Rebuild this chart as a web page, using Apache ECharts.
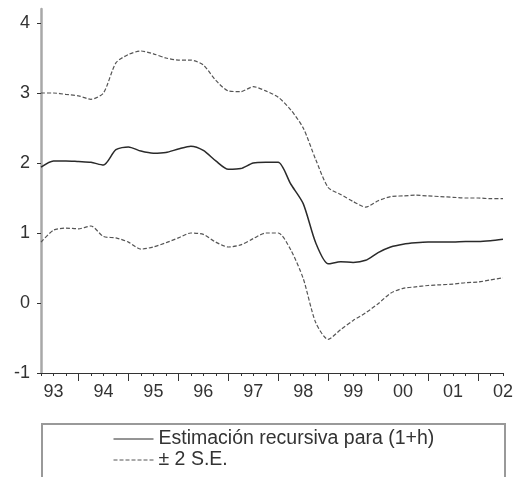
<!DOCTYPE html>
<html>
<head>
<meta charset="utf-8">
<script src="https://cdn.jsdelivr.net/npm/echarts@6/dist/echarts.min.js"></script>
<style>html,body{margin:0;padding:0;background:#fff;}#c{width:516px;height:477px;}</style>
</head>
<body>
<div id="c"></div>
<script>
const quarters = ["1992Q4",
 "1993Q1","1993Q2","1993Q3","1993Q4",
 "1994Q1","1994Q2","1994Q3","1994Q4",
 "1995Q1","1995Q2","1995Q3","1995Q4",
 "1996Q1","1996Q2","1996Q3","1996Q4",
 "1997Q1","1997Q2","1997Q3","1997Q4",
 "1998Q1","1998Q2","1998Q3","1998Q4",
 "1999Q1","1999Q2","1999Q3","1999Q4",
 "2000Q1","2000Q2","2000Q3","2000Q4",
 "2001Q1","2001Q2","2001Q3","2001Q4",
 "2002Q1"];
const yearLabels = ["93","94","95","96","97","98","99","00","01","02"];
const yTicks = [-1, 0, 1, 2, 3, 4];
const estimate = [1.94,2.03,2.03,2.02,2.01,1.97,2.19,2.23,2.17,2.14,2.15,2.20,2.24,2.18,2.03,1.91,1.92,2.00,
 2.01,2.01,1.70,1.42,0.86,0.56,0.59,0.58,0.61,0.72,0.80,0.84,0.86,0.87,0.87,0.87,0.88,0.88,0.89,0.91];
const upper = [3.00,3.00,2.98,2.96,2.91,3.00,3.43,3.55,3.60,3.56,3.50,3.47,3.47,3.40,3.18,3.03,3.02,3.09,
 3.03,2.94,2.76,2.50,2.05,1.65,1.55,1.45,1.37,1.46,1.52,1.53,1.54,1.53,1.52,1.51,1.50,1.50,1.49,1.49];
const lower = [0.87,1.04,1.07,1.06,1.10,0.95,0.93,0.87,0.77,0.80,0.86,0.93,1.00,0.98,0.87,0.80,0.83,0.92,
 1.00,1.00,0.76,0.35,-0.28,-0.52,-0.38,-0.25,-0.14,-0.01,0.14,0.21,0.23,0.25,0.26,0.27,0.29,0.30,0.33,0.36];

const FONT = 'Liberation Sans, Arial, sans-serif';
const legendBase = {
  orient: 'horizontal', left: 113,
  itemWidth: 40, itemHeight: 14,
  itemStyle: {opacity: 0},
  lineStyle: {width: 1},
  textStyle: {fontSize: 19.5, lineHeight: 20, color: '#333', fontFamily: FONT},
  padding: 0
};
const chart = echarts.init(document.getElementById('c'));
chart.setOption({
  animation: false,
  grid: {left: 41, right: 9, top: 9, bottom: 104},
  graphic: [{
    type: 'rect', silent: true,
    shape: {x: 42, y: 424, width: 463, height: 80},
    style: {fill: 'none', stroke: '#999', lineWidth: 2}
  }],
  legend: [
    Object.assign({}, legendBase, {top: 429, data: ['Estimación recursiva para (1+h)']}),
    Object.assign({}, legendBase, {top: 450, data: ['± 2 S.E.']})
  ],
  xAxis: [{
    type: 'category', data: quarters, boundaryGap: false,
    axisLine: {onZero: false, lineStyle: {color: '#333', width: 1}},
    axisTick: {interval: 0, length: 3, lineStyle: {color: '#333'}},
    axisLabel: {
      interval: (i, v) => v.endsWith('Q1'),
      formatter: v => yearLabels[parseInt(v.slice(0, 4), 10) - 1993],
      fontSize: 18, color: '#333', margin: 10, fontFamily: FONT
    },
    splitLine: {show: false}
  }, {
    type: 'category', data: quarters, boundaryGap: false, position: 'bottom',
    axisLine: {show: false, onZero: false},
    axisTick: {interval: (i, v) => v.endsWith('Q3'), length: 8, lineStyle: {color: '#333'}},
    axisLabel: {show: false},
    splitLine: {show: false}
  }],
  yAxis: {
    type: 'value', min: -1, max: 4.2,
    axisLine: {show: true, lineStyle: {color: '#a8a8a8', width: 2.5}},
    axisTick: {show: true, length: 4, customValues: yTicks, lineStyle: {color: '#333'}},
    axisLabel: {customValues: yTicks, fontSize: 18, color: '#333', margin: 11, fontFamily: FONT},
    splitLine: {show: false}
  },
  series: [{
    name: 'Estimación recursiva para (1+h)', type: 'line', data: estimate, smooth: 0.25,
    symbol: 'none', color: '#2a2a2a', lineStyle: {color: '#2a2a2a', width: 1.5}
  }, {
    name: '± 2 S.E.', type: 'line', data: upper, smooth: 0.25,
    symbol: 'none', color: '#555', lineStyle: {color: '#555', width: 1.2, type: [4, 2]}
  }, {
    name: '± 2 S.E.', type: 'line', data: lower, smooth: 0.25,
    symbol: 'none', color: '#555', lineStyle: {color: '#555', width: 1.2, type: [4, 2]}
  }]
});
</script>
</body>
</html>
